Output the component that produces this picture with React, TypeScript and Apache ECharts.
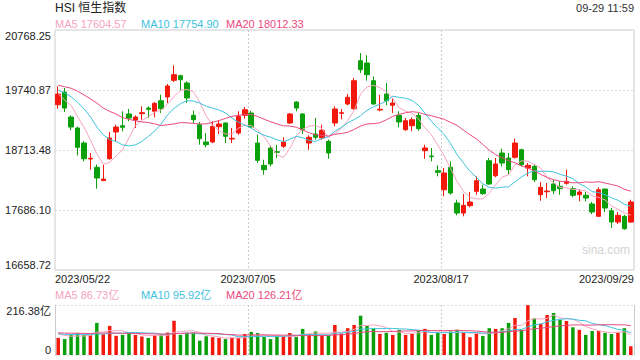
import React, { useEffect, useRef } from "react";
import * as echarts from "echarts";

const dates = [
  "2023/05/22","2023/05/23","2023/05/24","2023/05/25",
  "2023/05/29","2023/05/30","2023/05/31","2023/06/01","2023/06/02",
  "2023/06/05","2023/06/06","2023/06/07","2023/06/08","2023/06/09",
  "2023/06/12","2023/06/13","2023/06/14","2023/06/15","2023/06/16",
  "2023/06/19","2023/06/20","2023/06/21","2023/06/23",
  "2023/06/26","2023/06/27","2023/06/28","2023/06/29","2023/06/30",
  "2023/07/03","2023/07/04","2023/07/05","2023/07/06","2023/07/07",
  "2023/07/10","2023/07/11","2023/07/12","2023/07/13","2023/07/14",
  "2023/07/18","2023/07/19","2023/07/20","2023/07/21",
  "2023/07/24","2023/07/25","2023/07/26","2023/07/27","2023/07/28",
  "2023/07/31","2023/08/01","2023/08/02","2023/08/03","2023/08/04",
  "2023/08/07","2023/08/08","2023/08/09","2023/08/10","2023/08/11",
  "2023/08/14","2023/08/15","2023/08/16","2023/08/17",
  "2023/08/18",
  "2023/08/21","2023/08/22","2023/08/23","2023/08/24","2023/08/25",
  "2023/08/28","2023/08/29","2023/08/30","2023/08/31",
  "2023/09/04","2023/09/05","2023/09/06","2023/09/07",
  "2023/09/11","2023/09/12","2023/09/13","2023/09/14","2023/09/15",
  "2023/09/18","2023/09/19","2023/09/20","2023/09/21","2023/09/22",
  "2023/09/25","2023/09/26","2023/09/27","2023/09/28","2023/09/29",
];

const opens = [
  19489,19706,19278,19090,18833,18560,18417,18190,18564,19022,
  19129,19330,19227,19335,19432,19376,19557,19621,19907,19986,
  19861,19307,19147,18850,18850,19112,19176,18902,19004,19307,
  19347,18833,18451,18748,18684,18777,19176,19535,19330,18833,
  18987,18919,18862,19176,19342,19501,19421,20242,20203,19900,
  19398,19672,19479,19307,19061,19129,19307,18701,18610,18359,
  18033,18417,17806,17634,17760,18006,18045,18530,18273,18662,
  18576,18588,18718,18405,18434,17948,17999,18131,18092,18143,
  18051,17948,17938,17789,17578,18045,17674,17480,17578,17480,
];
const closes = [
  19672,19432,19107,18759,18564,18571,18234,18216,18919,19107,
  19102,19261,19278,19352,19410,19513,19421,19809,20003,19917,
  19604,19232,18907,18804,19119,19158,18948,18914,19290,19403,
  19107,18537,18376,18474,18674,18850,19330,19432,19061,18931,
  18931,19051,18662,19415,19352,19616,19900,20088,20003,19501,
  19410,19557,19518,19193,19215,19232,19078,18748,18599,18332,
  18320,17977,17634,17766,17823,18188,17965,18131,18474,18491,
  18376,18833,18462,18451,18205,18075,18011,18016,18051,18177,
  17938,17994,17891,17652,18033,17720,17480,17595,17366,17823,
];
const highs = [
  19804,19775,19307,19112,18862,18662,18462,18462,19022,19147,
  19376,19416,19307,19461,19461,19535,19660,19844,20164,20003,
  19890,19386,19193,19004,19205,19222,19188,19090,19376,19450,
  19386,18975,18547,18794,18804,18931,19347,19547,19347,18965,
  19261,19147,18890,19461,19415,19672,19946,20374,20335,19975,
  19660,19861,19592,19376,19261,19273,19347,18804,18748,18451,
  18405,18520,17862,17960,17994,18263,18119,18576,18576,18735,
  18662,18907,18735,18491,18462,18165,18148,18205,18177,18376,
  18092,18033,17994,17823,18075,18051,17720,17652,17605,17862,
];
const lows = [
  19421,19364,19051,18622,18520,18376,18051,18180,18547,18868,
  19034,19205,19090,19232,19261,19273,19347,19518,19878,19729,
  19518,19176,18804,18759,18833,18987,18833,18833,18975,19249,
  19090,18491,18290,18434,18576,18748,19158,19376,18987,18718,
  18890,18890,18564,19119,19239,19479,19403,20032,19900,19489,
  19376,19479,19347,19102,19044,19034,19044,18564,18520,18263,
  17920,17948,17595,17578,17732,17948,17948,18119,18246,18434,
  18290,18564,18434,18263,18165,17845,17891,17960,17948,18119,
  17903,17835,17835,17617,17566,17652,17378,17446,17348,17463,
];
// turnover, 亿
const volumes = [
  74,69,87,94,87,86,139,90,126,83,
  87,96,87,80,74,86,89,97,148,87,
  96,97,62,81,77,74,69,74,74,91,
  100,95,78,69,81,81,95,78,113,91,
  102,85,84,130,93,116,130,170,126,113,
  91,96,87,109,87,91,106,113,87,98,
  91,102,109,96,77,93,82,116,113,116,
  139,160,109,216,159,135,173,182,152,147,
  120,109,87,104,104,96,91,97,116,38,
];
// sessions before the window, needed for the moving averages at the left edge
const priorCloses = [
  19959,19617,19757,19840,19895,19699,19940,20049,20049,20297,
  19867,19762,19743,19628,19971,19978,19560,19727,19450,
];
const priorVolumes = [
  95,98,92,100,105,88,102,95,110,110,100,96,90,85,100,100,105,90,86,
];

const yTickLabels = ["16658.72", "17686.10", "18713.48", "19740.87", "20768.25"];
const priceMin = 16658.72;
const priceMax = 20768.25;
const volMax = 216.38;
const volTickLabels = ["0", "216.38亿"];

const titleText = "HSI 恒生指数";
const timeText = "09-29 11:59";
const priceLegend = ["MA5 17604.57", "MA10 17754.90", "MA20 18012.33"];
const volLegend = ["MA5 86.73亿", "MA10 95.92亿", "MA20 126.21亿"];

const RED = "#f2190c";
const GREEN = "#0ba00b";
const C_MA5 = "#f7a3c0";
const C_MA10 = "#3ec2de";
const C_MA20 = "#eb4a7e";
const FONT = 'Arial, "Liberation Sans", "Noto Sans CJK SC", sans-serif';

function movingAverage(values: number[], prior: number[], n: number): number[] {
  const all = prior.concat(values);
  const off = prior.length;
  return values.map((_, i) => {
    let s = 0;
    for (let k = 0; k < n; k++) s += all[off + i - k];
    return +(s / n).toFixed(2);
  });
}

export default function App() {
  const ref = useRef<HTMLDivElement>(null);
  useEffect(() => {
    if (!ref.current) return;
    const chart = echarts.init(ref.current, null, { renderer: "svg" });
    const candles = opens.map((o, i) => [o, closes[i], lows[i], highs[i]]);
    const volData = volumes.map((v, i) => ({
      value: v,
      itemStyle: { color: closes[i] >= opens[i] ? RED : GREEN },
    }));
    const lineSeries = (name: string, data: number[], color: string, xi: number, yi: number) => ({
      name,
      type: "line",
      xAxisIndex: xi,
      yAxisIndex: yi,
      data,
      showSymbol: false,
      symbol: "none",
      lineStyle: { width: 1, color },
      z: 5,
    });
    const txt = (text: string, x: number, y: number, fill: string, size: number, align = "left") => ({
      type: "text",
      x,
      y,
      silent: true,
      style: {
        text,
        fill,
        font: `${size}px ${FONT}`,
        align,
        verticalAlign: "middle",
        textAlign: align,
        textVerticalAlign: "middle",
      },
    });
    const gridDot = { color: "#dddddd", type: [2, 2], width: 1 };
    const vDash = { color: "#cccccc", type: [2, 2], width: 1 };

    chart.setOption({
      animation: false,
      textStyle: { fontFamily: FONT },
      grid: [
        { left: 55, right: 6, top: 30, height: 240, show: true, borderColor: "#cccccc", borderWidth: 1 },
        { left: 55, right: 6, top: 305, height: 50 },
      ],
      xAxis: [
        {
          type: "category", gridIndex: 0, data: dates, boundaryGap: true,
          axisLine: { show: false }, axisTick: { show: false }, axisLabel: { show: false }, splitLine: { show: false },
        },
        {
          type: "value", gridIndex: 0, min: 0, max: 90, interval: 30, position: "bottom",
          axisLine: { show: false }, axisTick: { show: false },
          axisLabel: {
            formatter: (v: number) => dates[Math.min(v, dates.length - 1)],
            fontSize: 11, color: "#222", margin: 3,
            alignMinLabel: "left", alignMaxLabel: "right",
          },
          splitLine: { show: true, showMinLine: false, showMaxLine: false, lineStyle: vDash },
        },
        {
          type: "category", gridIndex: 1, data: dates, boundaryGap: true,
          axisLine: { show: false }, axisTick: { show: false }, axisLabel: { show: false }, splitLine: { show: false },
        },
        {
          type: "value", gridIndex: 1, min: 0, max: 90, interval: 30,
          axisLine: { show: false }, axisTick: { show: false }, axisLabel: { show: false },
          splitLine: { show: true, showMinLine: false, showMaxLine: false, lineStyle: vDash },
        },
      ],
      yAxis: [
        { type: "value", gridIndex: 0, min: priceMin, max: priceMax, show: false },
        {
          type: "value", gridIndex: 0, min: 0, max: 4, interval: 1, position: "left",
          axisLine: { show: false }, axisTick: { show: false },
          axisLabel: {
            formatter: (v: number) => yTickLabels[v],
            fontSize: 11, color: "#222", margin: 4,
            verticalAlignMinLabel: "bottom", verticalAlignMaxLabel: "top",
          },
          splitLine: { show: true, showMinLine: false, showMaxLine: false, lineStyle: gridDot },
        },
        {
          type: "value", gridIndex: 1, min: 0, max: volMax, interval: volMax, position: "left",
          axisLine: { show: true, lineStyle: { color: "#cccccc" } }, axisTick: { show: false },
          axisLabel: {
            formatter: (v: number) => (v === 0 ? volTickLabels[0] : volTickLabels[1]),
            fontSize: 11, color: "#222", margin: 4,
            verticalAlignMinLabel: "bottom", verticalAlignMaxLabel: "top",
          },
          splitLine: { show: true, lineStyle: gridDot },
        },
        {
          type: "value", gridIndex: 1, min: 0, max: 1, position: "right",
          axisLine: { show: true, lineStyle: { color: "#cccccc" } }, axisTick: { show: false },
          axisLabel: { show: false }, splitLine: { show: false },
        },
      ],
      series: [
        {
          name: "HSI", type: "candlestick", xAxisIndex: 0, yAxisIndex: 0, data: candles,
          barWidth: 5,
          itemStyle: { color: RED, color0: GREEN, borderColor: RED, borderColor0: GREEN, borderWidth: 1 },
          z: 3,
        },
        lineSeries("MA5", movingAverage(closes, priorCloses, 5), C_MA5, 0, 0),
        lineSeries("MA10", movingAverage(closes, priorCloses, 10), C_MA10, 0, 0),
        lineSeries("MA20", movingAverage(closes, priorCloses, 20), C_MA20, 0, 0),
        {
          name: "VOL", type: "bar", xAxisIndex: 2, yAxisIndex: 2, data: volData, barWidth: 3.5, z: 3,
        },
        lineSeries("VMA5", movingAverage(volumes, priorVolumes, 5), C_MA5, 2, 2),
        lineSeries("VMA10", movingAverage(volumes, priorVolumes, 10), C_MA10, 2, 2),
        lineSeries("VMA20", movingAverage(volumes, priorVolumes, 20), C_MA20, 2, 2),
      ],
      graphic: [
        txt(titleText, 55, 8, "#222", 12),
        txt(timeText, 634, 8, "#333", 11, "right"),
        txt(priceLegend[0], 55, 24, C_MA5, 11),
        txt(priceLegend[1], 141, 24, C_MA10, 11),
        txt(priceLegend[2], 226, 24, C_MA20, 11),
        txt(volLegend[0], 55, 294.5, C_MA5, 11),
        txt(volLegend[1], 141, 294.5, C_MA10, 11),
        txt(volLegend[2], 226, 294.5, C_MA20, 11),
        txt("sina.com", 582, 250, "#d2d2d2", 12),
      ],
    });
    return () => chart.dispose();
  }, []);
  return (
    <div
      ref={ref}
      style={{ position: "fixed", left: 0, top: 0, width: 640, height: 360, background: "#fff" }}
    />
  );
}
